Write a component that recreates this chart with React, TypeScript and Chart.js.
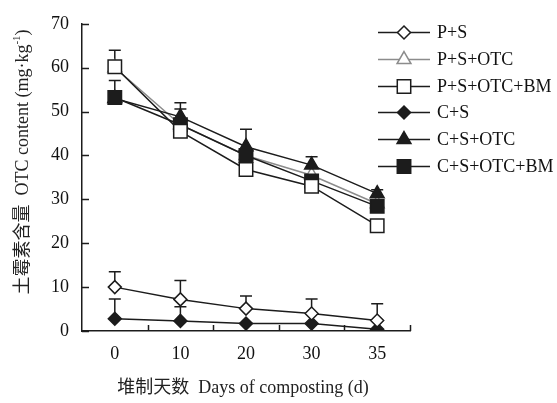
import React, { useEffect, useRef } from 'react';
import { Chart, registerables } from 'chart.js';

Chart.register(...registerables);

// ---- data ----
const days = ['0', '10', '20', '30', '35'];
const seriesNames = ['P+S', 'P+S+OTC', 'P+S+OTC+BM', 'C+S', 'C+S+OTC', 'C+S+OTC+BM'];

const psValues = [10, 7.2, 5.1, 4.0, 2.4];
const psErrors = [3.5, 4.3, 2.9, 3.3, 3.8];

const psOtcValues = [60, 47, 40, 35.5, 29];
const psOtcErrors = [0, 0, 0, 0, 0];

const psOtcBmValues = [60.2, 45.5, 36.8, 33, 24];
const psOtcBmErrors = [3.8, 0, 0, 0, 0];

const csValues = [2.8, 2.3, 1.7, 1.7, 0.4];
const csErrors = [4.5, 3.2, 0, 0, 0];

const csOtcValues = [53, 48.8, 42, 37.8, 31.3];
const csOtcErrors = [0, 3.2, 4.0, 1.9, 0.9];

const csOtcBmValues = [53.2, 47, 40, 34.2, 28.4];
const csOtcBmErrors = [3.9, 3.6, 0, 0, 0];

const yMin = 0;
const yMax = 70;
const yStep = 10;

const yTitleMain = '土霉素含量  OTC content (mg·kg';
const yTitleSup = '-1';
const yTitleEnd = ')';
const xTitle = '堆制天数  Days of composting (d)';

// ---- styles ----
const BLACK = '#1c1c1c';
const GRAY = '#8c8c8c';
const SERIF = '"Liberation Serif", "Noto Sans CJK SC", serif';

type Marker = 'diamond' | 'triangle' | 'square';
const markers: Marker[] = ['diamond', 'triangle', 'square', 'diamond', 'triangle', 'square'];
const filled = [false, false, false, true, true, true];
const lineColors = [BLACK, GRAY, BLACK, BLACK, BLACK, BLACK];
const radii: Record<Marker, number> = { diamond: 6.5, triangle: 8, square: 9.5 };
const chartStyle: Record<Marker, string> = { diamond: 'rectRot', triangle: 'triangle', square: 'rect' };

function drawMarker(ctx: CanvasRenderingContext2D, m: Marker, x: number, y: number, r: number, fill: string, stroke: string) {
  ctx.beginPath();
  if (m === 'diamond') {
    ctx.moveTo(x, y - r); ctx.lineTo(x + r, y); ctx.lineTo(x, y + r); ctx.lineTo(x - r, y); ctx.closePath();
  } else if (m === 'triangle') {
    let a = 0;
    ctx.moveTo(x + Math.sin(a) * r, y - Math.cos(a) * r);
    a += (2 * Math.PI) / 3; ctx.lineTo(x + Math.sin(a) * r, y - Math.cos(a) * r);
    a += (2 * Math.PI) / 3; ctx.lineTo(x + Math.sin(a) * r, y - Math.cos(a) * r);
    ctx.closePath();
  } else {
    const s = Math.SQRT1_2 * r;
    ctx.rect(x - s, y - s, 2 * s, 2 * s);
  }
  ctx.fillStyle = fill; ctx.fill();
  ctx.strokeStyle = stroke; ctx.lineWidth = 1.5; ctx.stroke();
}

const allValues = [psValues, psOtcValues, psOtcBmValues, csValues, csOtcValues, csOtcBmValues];
const allErrors = [psErrors, psOtcErrors, psOtcBmErrors, csErrors, csOtcErrors, csOtcBmErrors];
// draw order: lower is on top
const drawOrder = [2, 5, 0, 3, 4, 1];

const decorPlugin = {
  id: 'decor',
  beforeDatasetsDraw(chart: any) {
    const ctx = chart.ctx as CanvasRenderingContext2D;
    const ys = chart.scales.y;
    ctx.save();
    chart.data.datasets.forEach((ds: any, di: number) => {
      const meta = chart.getDatasetMeta(di);
      const errs = allErrors[di];
      meta.data.forEach((pt: any, i: number) => {
        const e = errs[i];
        if (!e) return;
        const top = ys.getPixelForValue(ds.data[i] + e);
        ctx.strokeStyle = lineColors[di];
        ctx.lineWidth = 1.5;
        ctx.beginPath();
        ctx.moveTo(pt.x, pt.y);
        ctx.lineTo(pt.x, top);
        ctx.moveTo(pt.x - 6, top);
        ctx.lineTo(pt.x + 6, top);
        ctx.stroke();
      });
    });
    ctx.restore();
  },
  afterDraw(chart: any) {
    const ctx = chart.ctx as CanvasRenderingContext2D;
    const xs = chart.scales.x;
    const ys = chart.scales.y;
    const area = chart.chartArea;
    ctx.save();
    // inward ticks
    ctx.strokeStyle = BLACK;
    ctx.lineWidth = 1.5;
    ctx.beginPath();
    for (let v = yMin; v <= yMax; v += yStep) {
      const py = Math.round(ys.getPixelForValue(v)) + 0.5;
      ctx.moveTo(area.left, py);
      ctx.lineTo(area.left + 7, py);
    }
    const n = days.length;
    for (let i = 0; i < n; i++) {
      const c = xs.getPixelForValue(i);
      const next = i < n - 1 ? xs.getPixelForValue(i + 1) : c + (c - xs.getPixelForValue(i - 1));
      const b = Math.round((c + next) / 2) + 0.5;
      ctx.moveTo(b, area.bottom);
      ctx.lineTo(b, area.bottom - 6);
    }
    ctx.stroke();

    // y title
    ctx.fillStyle = '#222';
    ctx.textBaseline = 'middle';
    ctx.textAlign = 'left';
    const big = '18px ' + SERIF;
    const small = '11px ' + SERIF;
    ctx.font = big;
    const w1 = ctx.measureText(yTitleMain).width;
    const w3 = ctx.measureText(yTitleEnd).width;
    ctx.font = small;
    const w2 = ctx.measureText(yTitleSup).width;
    const total = w1 + w2 + w3;
    ctx.save();
    ctx.translate(23, 162);
    ctx.rotate(-Math.PI / 2);
    let x0 = -total / 2;
    ctx.font = big;
    ctx.fillText(yTitleMain, x0, 0);
    x0 += w1;
    ctx.font = small;
    ctx.fillText(yTitleSup, x0, -6);
    x0 += w2;
    ctx.font = big;
    ctx.fillText(yTitleEnd, x0, 0);
    ctx.restore();

    // x title
    ctx.font = big;
    ctx.textAlign = 'center';
    ctx.textBaseline = 'middle';
    ctx.fillText(xTitle, 243, 388);

    // legend
    const lx0 = 378, lx1 = 430, mx = 404, tx = 437;
    ctx.font = big;
    ctx.textAlign = 'left';
    seriesNames.forEach((name, i) => {
      const ly = Math.round(32 + i * 26.8) + 0.5;
      ctx.strokeStyle = lineColors[i];
      ctx.lineWidth = 1.5;
      ctx.beginPath();
      ctx.moveTo(lx0, ly);
      ctx.lineTo(lx1, ly);
      ctx.stroke();
      const m = markers[i];
      drawMarker(ctx, m, mx, ly, radii[m], filled[i] ? BLACK : '#ffffff', lineColors[i]);
      ctx.fillStyle = '#111';
      ctx.fillText(name, tx, ly + 1);
    });
    ctx.restore();
  },
};

export default function App() {
  const ref = useRef<HTMLCanvasElement | null>(null);
  useEffect(() => {
    if (!ref.current) return;
    const datasets = seriesNames.map((name, i) => {
      const m = markers[i];
      return {
        label: name,
        data: allValues[i],
        borderColor: lineColors[i],
        borderWidth: 1.5,
        backgroundColor: filled[i] ? BLACK : '#ffffff',
        pointStyle: chartStyle[m],
        pointRadius: radii[m],
        pointBorderWidth: 1.5,
        pointBorderColor: lineColors[i],
        pointBackgroundColor: filled[i] ? BLACK : '#ffffff',
        tension: 0,
        fill: false,
        order: drawOrder[i],
      };
    });
    const chart = new Chart(ref.current, {
      type: 'line',
      data: { labels: days, datasets },
      options: {
        animation: false,
        responsive: false,
        maintainAspectRatio: false,
        layout: { padding: { top: 14, right: 147, left: 0, bottom: 0 } },
        plugins: { legend: { display: false }, tooltip: { enabled: false }, title: { display: false } },
        scales: {
          x: {
            type: 'category',
            offset: true,
            grid: { display: true, drawOnChartArea: false, drawTicks: false, offset: true, color: 'rgba(0,0,0,0)' },
            border: { display: true, color: BLACK, width: 1.5 },
            ticks: { color: '#111', font: { family: SERIF, size: 18 }, padding: 12, maxRotation: 0 },
            afterFit: (s: any) => { s.height = 72; },
          },
          y: {
            min: yMin,
            max: yMax,
            grid: { display: true, drawOnChartArea: false, drawTicks: false, color: 'rgba(0,0,0,0)' },
            border: { display: true, color: BLACK, width: 1.5 },
            ticks: { stepSize: yStep, color: '#111', font: { family: SERIF, size: 18 }, padding: 13 },
            afterFit: (s: any) => { s.width = 82; },
          },
        },
      },
      plugins: [decorPlugin],
    });
    return () => chart.destroy();
  }, []);
  return (
    <div style={{ position: 'fixed', left: 0, top: 0, width: 557, height: 403, background: '#fff' }}>
      <canvas ref={ref} width={557} height={403} />
    </div>
  );
}
